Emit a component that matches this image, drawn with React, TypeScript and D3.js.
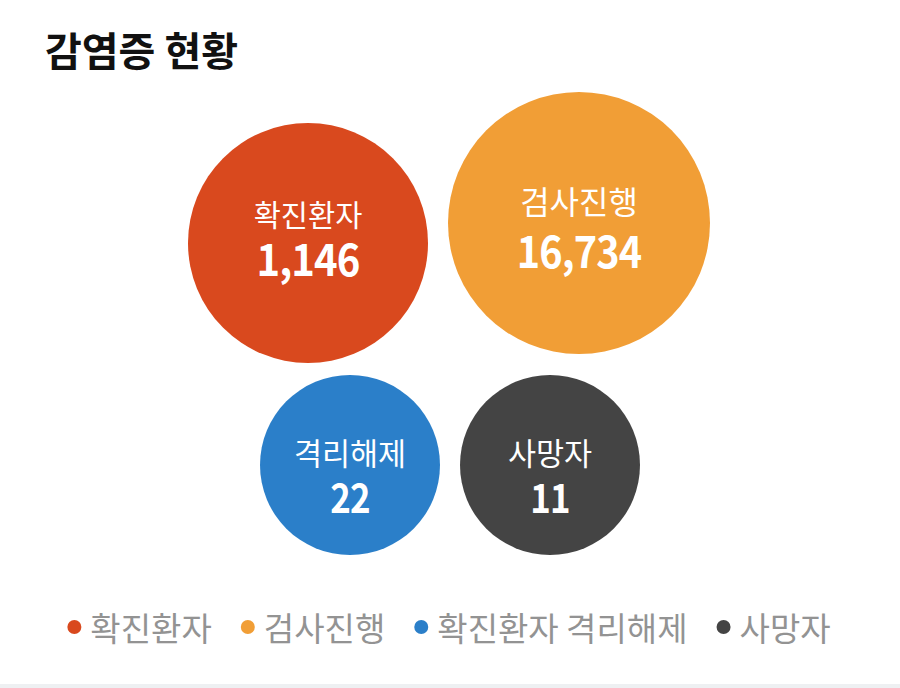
import React, { useEffect, useRef } from "react";
import * as d3 from "d3";

const title = "감염증 현황";
const categories = ["확진환자", "검사진행", "격리해제", "사망자"];
const values = [1146, 16734, 22, 11];
const legendLabels = ["확진환자", "검사진행", "확진환자 격리해제", "사망자"];
const colors = ["#d9491e", "#f19e36", "#2b7fc9", "#444444"];

// layout (not data)
const W = 900;
const H = 688;
const FONT = "'Noto Sans CJK KR', 'Noto Sans', sans-serif";
const layout = [
  { row: 0, col: 0, r: 120, labelDy: -30, numDy: 14, labelSize: 29.5, numSize: 44, sx: 0.91 },
  { row: 0, col: 1, r: 131, labelDy: -23, numDy: 26, labelSize: 32, numSize: 44, sx: 0.9 },
  { row: 1, col: 0, r: 90, labelDy: -13, numDy: 31, labelSize: 30.5, numSize: 40, sx: 0.87 },
  { row: 1, col: 1, r: 90, labelDy: -13, numDy: 31, labelSize: 30.5, numSize: 40, sx: 0.87 },
];

export default function App() {
  const ref = useRef<SVGSVGElement>(null);

  useEffect(() => {
    const svg = d3.select(ref.current);
    svg.selectAll("*").remove();

    svg.append("rect").attr("width", W).attr("height", H).attr("fill", "#ffffff");
    svg.append("rect").attr("x", 0).attr("y", 684).attr("width", W).attr("height", 4).attr("fill", "#eef0f2");

    svg.append("text")
      .attr("x", 45).attr("y", 49)
      .attr("dominant-baseline", "central")
      .attr("font-family", FONT).attr("font-weight", 700).attr("font-size", 40)
      .attr("fill", "#111111")
      .text(title);

    const rowY = d3.scaleOrdinal<number, number>().domain([0, 1]).range([233, 465]);
    const topX = d3.scalePoint<number>().domain([0, 1]).range([308, 579]);
    const botX = d3.scalePoint<number>().domain([0, 1]).range([350, 550]);

    const fmt = d3.format(",");
    const data = categories.map((c, i) => ({ c, v: values[i], color: colors[i], ...layout[i] }));

    const g = svg.selectAll("g.bubble").data(data).enter().append("g")
      .attr("class", "bubble")
      .attr("transform", (d) => {
        const x = d.row === 0 ? topX(d.col)! : botX(d.col)!;
        const y = rowY(d.row) + (d.row === 0 && d.col === 1 ? -10 : d.row === 0 ? 10 : 0);
        return `translate(${x},${y})`;
      });

    g.append("circle").attr("r", (d) => d.r).attr("fill", (d) => d.color);
    g.append("text")
      .attr("y", (d) => d.labelDy)
      .attr("text-anchor", "middle").attr("dominant-baseline", "central")
      .attr("font-family", FONT).attr("font-size", (d) => d.labelSize)
      .attr("fill", "#ffffff")
      .text((d) => d.c);
    g.append("text")
      .attr("transform", (d) => `translate(0,${d.numDy}) scale(${d.sx},1)`)
      .attr("text-anchor", "middle").attr("dominant-baseline", "central")
      .attr("font-family", FONT).attr("font-weight", 700).attr("font-size", (d) => d.numSize)
      .attr("letter-spacing", -1)
      .attr("fill", "#ffffff")
      .text((d) => fmt(d.v));

    // legend
    const lg = svg.append("g");
    const items = legendLabels.map((l, i) => ({ l, color: colors[i] }));
    const itemG = lg.selectAll("g").data(items).enter().append("g");
    itemG.append("circle").attr("r", 7).attr("fill", (d) => d.color);
    const texts = itemG.append("text")
      .attr("x", 16).attr("y", 0)
      .attr("dominant-baseline", "central")
      .attr("font-family", FONT).attr("font-size", 33)
      .attr("fill", "#939393")
      .text((d) => d.l);
    const widths: number[] = [];
    texts.each(function () { widths.push((this as SVGTextElement).getComputedTextLength()); });
    let x = 0;
    const xs: number[] = [];
    widths.forEach((w) => { xs.push(x); x += 16 + w + 36; });
    const total = x - 36 + 7;
    const start = 449 - total / 2 + 7;
    itemG.attr("transform", (_d, i) => `translate(${start + xs[i]},627)`);
  }, []);

  return (
    <svg ref={ref} width={W} height={H} style={{ position: "absolute", left: 0, top: 0, display: "block" }} />
  );
}
